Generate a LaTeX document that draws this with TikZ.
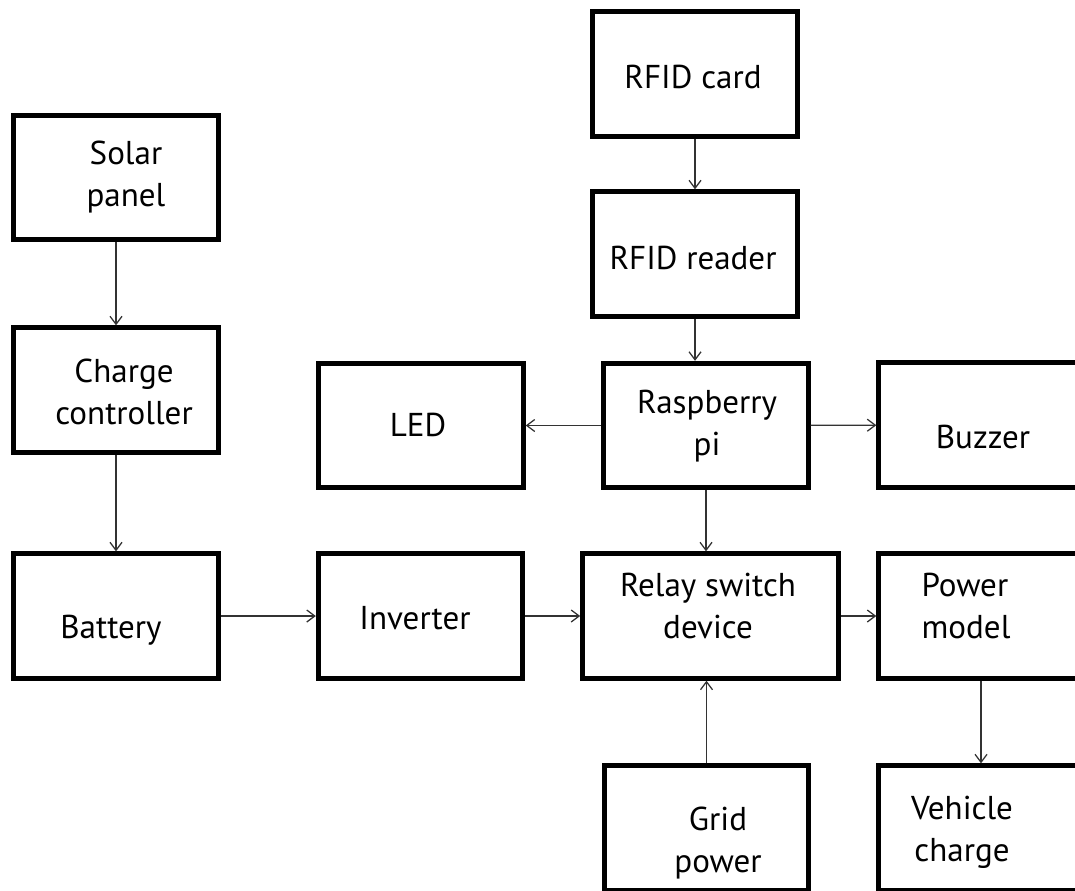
\documentclass[tikz,border=0pt]{standalone}
\usepackage{fontspec}
\setmainfont{PT Sans}
\usetikzlibrary{arrows.meta}

\begin{document}
\begin{tikzpicture}[
  x=0.025cm, y=-0.025cm,
  box/.style={
    draw=black,
    line width=3.5pt,
    minimum width=5.11cm,
    minimum height=3.11cm,
    inner sep=0pt
  },
  wide/.style={minimum width=6.39cm},
  txt/.style={
    align=center,
    inner sep=0pt,
    font=\fontsize{23.5}{30}\selectfont
  },
  arrow/.style={
    -{Straight Barb[length=2mm,width=3mm]},
    line width=0.9pt,
    draw=black!80
  }
]
\path[use as bounding box, clip] (0,0) rectangle (1075,890);

% frames
\node[box]       (card)    at (695,74)    {};
\node[box]       (reader)  at (695,254)   {};
\node[box]       (solar)   at (116,177.5) {};
\node[box]       (charge)  at (116,390)   {};
\node[box]       (led)     at (421,425.5) {};
\node[box]       (rasp)    at (706,425.5) {};
\node[box]       (buzzer)  at (981,425)   {};
\node[box]       (battery) at (116,616)   {};
\node[box]       (inv)     at (420.5,616) {};
\node[box, wide] (relay)   at (710.5,616) {};
\node[box]       (power)   at (981,616)   {};
\node[box]       (grid)    at (706.5,828) {};
\node[box]       (vehicle) at (981,828)   {};

% texts
\node[txt] (card-t)    at (693,77)  {RFID card};
\node[txt] (reader-t)  at (693,258) {RFID reader};
\node[txt] (solar-t)   at (126,177) {Solar\\panel};
\node[txt] (charge-t)  at (124,392) {Charge\\controller};
\node[txt] (led-t)     at (418,425) {LED};
\node[txt] (rasp-t)    at (707,426) {Raspberry\\pi};
\node[txt] (buzzer-t)  at (983,437) {Buzzer};
\node[txt] (battery-t) at (111,630) {Battery};
\node[txt] (inv-t)     at (415,618) {Inverter};
\node[txt] (relay-t)   at (708,606) {Relay switch\\device};
\node[txt, align=left] (power-t)   at (966,606) {Power\\model};
\node[txt] (grid-t)    at (718,843) {Grid\\power};
\node[txt] (vehicle-t) at (962,832) {Vehicle\\charge};

% connectors
\draw[arrow] (card)    -- (reader);
\draw[arrow] (reader)  -- (reader |- rasp.north);
\draw[arrow] (solar)   -- (charge);
\draw[arrow] (charge)  -- (battery);
\draw[arrow] (rasp)    -- (led);
\draw[arrow] (rasp)    -- (buzzer);
\draw[arrow] (rasp)    -- (rasp |- relay.north);
\draw[arrow] (battery) -- (inv);
\draw[arrow] (inv)     -- (relay);
\draw[arrow] (relay)   -- (power);
\draw[arrow] (grid)    -- (grid |- relay.south);
\draw[arrow] (power)   -- (power |- vehicle.north);

\end{tikzpicture}
\end{document}
